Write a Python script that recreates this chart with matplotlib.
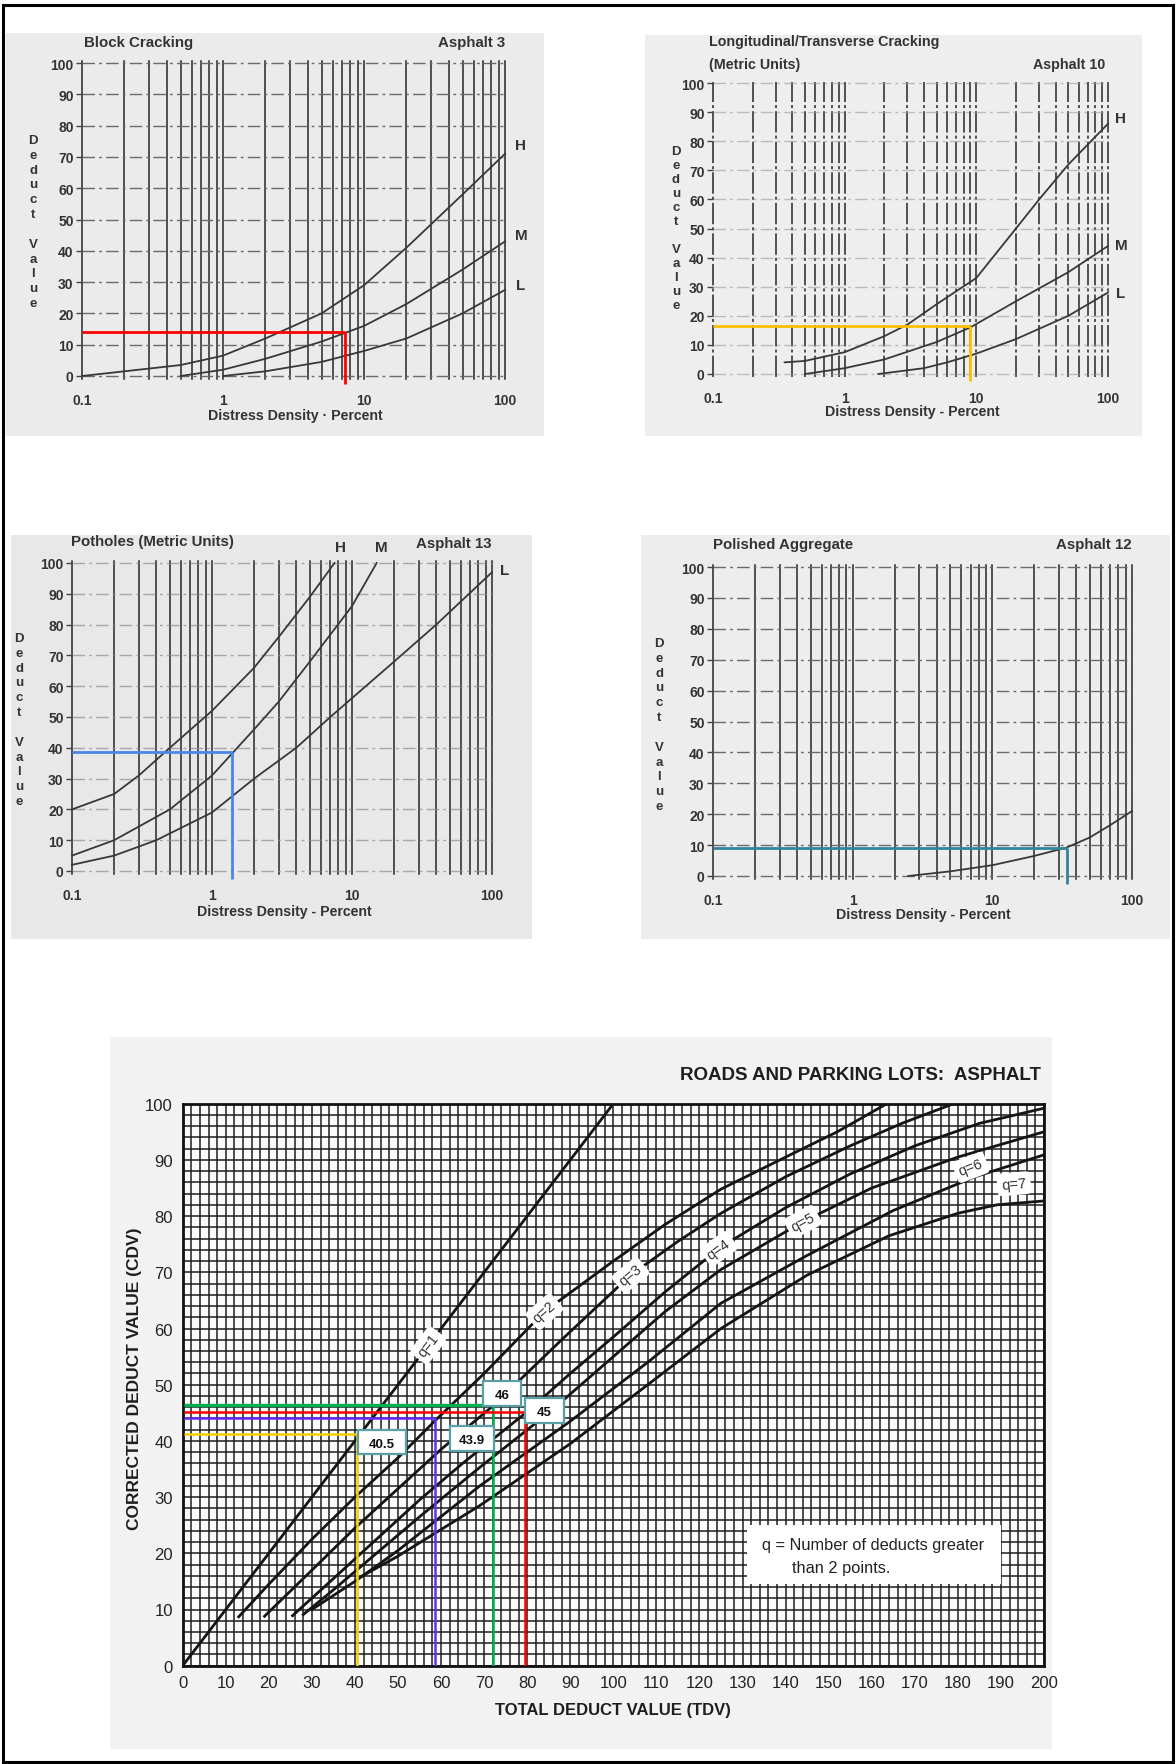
import numpy as np
import matplotlib
matplotlib.use('Agg')
import matplotlib.pyplot as plt
from matplotlib.patches import Rectangle
from matplotlib.ticker import NullLocator

# ---------------- data ----------------
# Block Cracking (Asphalt 3)
bc_h_x = [0.1, 0.2, 0.5, 1, 2, 5, 10, 20, 50, 100]
bc_h_y = [0, 1.5, 3.5, 6.5, 12, 20, 29, 41, 58, 71]
bc_m_x = [0.5, 1, 2, 5, 10, 20, 50, 100]
bc_m_y = [0, 2, 5.5, 11, 16, 23, 34, 43]
bc_l_x = [1, 2, 5, 10, 20, 50, 100]
bc_l_y = [0, 1.5, 4.5, 8, 12, 20, 27.5]
bc_read = (7.3, 14)

# Longitudinal/Transverse Cracking (Asphalt 10)
lt_h_x = [0.35, 0.5, 1, 2, 3, 5, 10, 20, 30, 50, 100]
lt_h_y = [4, 4.5, 7.5, 13, 17, 24, 33, 50, 60, 72, 86]
lt_m_x = [0.5, 1, 2, 5, 9, 20, 50, 100]
lt_m_y = [0, 2, 5, 11, 16, 25, 35, 44]
lt_l_x = [1.8, 4, 6, 10, 20, 50, 100]
lt_l_y = [0, 2, 4, 7, 12, 20, 28]
lt_read = (9.0, 16.5)

# Potholes (Asphalt 13)
ph_h_x = [0.1, 0.2, 0.3, 0.5, 1, 2, 3, 5, 7.5]
ph_h_y = [20, 25, 31, 40, 52, 66, 76, 89, 100]
ph_m_x = [0.1, 0.2, 0.5, 1, 2, 3, 5, 10, 15]
ph_m_y = [5, 10, 20, 31, 46, 55, 68, 86, 100]
ph_l_x = [0.1, 0.2, 0.4, 1, 2, 4, 7, 20, 40, 100]
ph_l_y = [2, 5, 10, 19, 30, 40, 50, 68, 80, 97]
ph_read = (1.4, 38.5)

# Polished Aggregate (Asphalt 12)
pa_x = [2.5, 5, 10, 20, 34, 50, 70, 100]
pa_y = [0, 1.5, 3.5, 6.5, 9.2, 12.5, 16.5, 21]
pa_read = (34, 9.2)

# CDV chart, curves q=1..7
q_names = ['q=1', 'q=2', 'q=3', 'q=4', 'q=5', 'q=6', 'q=7']
q_tdv = [
    [0, 100],
    [13, 20, 30, 40, 50, 59, 70, 84, 100, 112, 125, 140, 152, 163.5],
    [19, 30, 40, 50, 60, 72, 88, 104, 115, 125, 140, 155, 167, 179],
    [25.5, 35, 45, 55, 65, 80, 90, 100, 112, 125, 140, 155, 170, 185, 200],
    [28, 35, 45, 55, 69, 85, 100, 112, 125, 144, 160, 180, 200],
    [30, 40, 50, 69, 90, 108, 125, 145, 165, 184, 200],
    [41.3, 50, 69, 90, 108, 125, 145, 164, 180, 189, 200],
]
q_cdv = [
    [0, 100],
    [8.7, 14.5, 22.5, 30, 37, 43.9, 52, 63, 72, 78.5, 84.8, 90.5, 95, 100],
    [8.8, 17, 24.5, 31.5, 38.5, 46.2, 58, 69.5, 75.5, 80.5, 87, 92.5, 96.5, 100],
    [8.9, 15.5, 22.5, 29.5, 36, 45.2, 52, 58.5, 66.5, 74.5, 81.5, 87.5, 92.5, 96.5, 99.2],
    [9.1, 13.5, 20, 26.5, 35.3, 45, 55, 63, 70.5, 79, 85, 90.5, 95],
    [10, 15, 20.5, 32, 43.5, 54, 64.5, 73, 81, 87, 90.9],
    [15.8, 19.5, 28.5, 39.5, 50, 60, 69.5, 76.5, 80.5, 82, 82.7],
]
# worked readings: TDV, CDV, colour
read_tdv = [40.4, 58.5, 72, 79.5]
read_cdv = [41.3, 44.0, 46.4, 45.1]
read_txt = ['40.5', '43.9', '46', '45']
read_col = ['#f2d000', '#6a2cf5', '#00b050', '#ff0000']

# ---------------- figure helpers ----------------
W, H = 1176, 1765
fig = plt.figure(figsize=(W / 100, H / 100), dpi=100)
fig.patch.set_facecolor('white')

SANS = ['Liberation Sans', 'DejaVu Sans']
NARROW = ['Liberation Sans Narrow', 'Liberation Sans', 'DejaVu Sans']
INK = '#333333'


def box_axes(x0, y0, x1, y1):
    return fig.add_axes([x0 / W, 1 - y1 / H, (x1 - x0) / W, (y1 - y0) / H])


def ftext(x, y, s, **kw):
    kw.setdefault('family', SANS)
    kw.setdefault('color', INK)
    kw.setdefault('va', 'center')
    return fig.text(x / W, 1 - y / H, s, **kw)


def bg(x0, y0, x1, y1, color):
    fig.add_artist(Rectangle((x0 / W, 1 - y1 / H), (x1 - x0) / W, (y1 - y0) / H,
                             transform=fig.transFigure, facecolor=color,
                             edgecolor='none', zorder=-5))


def stacked_label(x, y0, y1):
    letters = list('Deduct') + [''] + list('Value')
    ys = np.linspace(y0, y1, len(letters))
    for ch, yy in zip(letters, ys):
        ftext(x, yy, ch, ha='center', fontsize=9.5, weight='bold')


def log_panel(box, curves, read, rcolor, vls='-', hcolor='#6a6a6a', halpha=1.0):
    ax = box_axes(*box)
    ax.set_xscale('log')
    ax.set_xlim(0.1, 100)
    ax.set_ylim(0, 100)
    ax.patch.set_alpha(0)
    for s in ax.spines.values():
        s.set_visible(False)
    vpos = np.concatenate([np.arange(1, 10) * d for d in (0.1, 1, 10)] + [[100]])
    for v in vpos:
        ax.plot([v, v], [-1, 100.5], color='#262626', lw=1.1, ls=vls, clip_on=False, zorder=1)
    for h in range(0, 101, 10):
        ax.plot([0.1, 100], [h, h], color=hcolor, lw=1.0, alpha=halpha,
                ls=(0, (9, 3, 2, 3)), clip_on=False, zorder=1)
    for xs, ys in curves:
        ax.plot(xs, ys, color='#383838', lw=1.3, zorder=3, clip_on=False)
    rx, ry = read
    ax.plot([0.1, rx], [ry, ry], color=rcolor, lw=2.0, zorder=4, clip_on=False,
            solid_capstyle='butt')
    ax.plot([rx, rx], [ry, -2.5], color=rcolor, lw=2.0, zorder=4, clip_on=False,
            solid_capstyle='butt')
    ax.xaxis.set_minor_locator(NullLocator())
    ax.set_xticks([0.1, 1, 10, 100], labels=['0.1', '1', '10', '100'])
    ax.set_yticks(range(0, 101, 10))
    ax.tick_params(axis='x', length=0, pad=12)
    ax.tick_params(axis='y', length=4, width=1, pad=2, color='#444')
    for lab in ax.get_xticklabels() + ax.get_yticklabels():
        lab.set_family(SANS)
        lab.set_fontsize(10)
        lab.set_weight('bold')
        lab.set_color(INK)
    return ax


TFS = 10.8   # panel title size
XFS = 10.2   # panel x label size

# ---------------- panel 1: block cracking ----------------
bg(6, 34, 544, 437, '#ebebeb')
log_panel((82, 64, 505, 377),
          [(bc_h_x, bc_h_y), (bc_m_x, bc_m_y), (bc_l_x, bc_l_y)],
          bc_read, '#ff0000')
ftext(84, 43, 'Block Cracking', fontsize=TFS, weight='bold')
ftext(505, 43, 'Asphalt 3', ha='right', fontsize=TFS, weight='bold')
for s, yy in zip('HML', (146, 236, 286)):
    ftext(521, yy, s, ha='center', fontsize=11, weight='bold')
stacked_label(33, 141, 304)
ftext(295, 416, 'Distress Density \u00b7 Percent', ha='center', fontsize=XFS, weight='bold')

# ---------------- panel 2: longitudinal / transverse ----------------
bg(645, 36, 1142, 437, '#eeeeee')
log_panel((713, 84, 1108, 375),
          [(lt_h_x, lt_h_y), (lt_m_x, lt_m_y), (lt_l_x, lt_l_y)],
          lt_read, '#ffc000', vls=(0, (14, 2, 2, 2)), hcolor='#9a9a9a', halpha=0.6)
ftext(709, 42, 'Longitudinal/Transverse Cracking', fontsize=10.3, weight='bold')
ftext(709, 65, '(Metric Units)', fontsize=10.3, weight='bold')
ftext(1105, 65, 'Asphalt 10', ha='right', fontsize=10.3, weight='bold')
for s, yy in zip('HML', (119, 246, 294)):
    ftext(1121, yy, s, ha='center', fontsize=11, weight='bold')
stacked_label(676, 152, 306)
ftext(912, 412, 'Distress Density - Percent', ha='center', fontsize=XFS, weight='bold')

# ---------------- panel 3: potholes ----------------
bg(11, 536, 532, 940, '#e8e8e8')
log_panel((72, 564, 492, 872),
          [(ph_h_x, ph_h_y), (ph_m_x, ph_m_y), (ph_l_x, ph_l_y)],
          ph_read, '#4a86e8', hcolor='#8a8a8a', halpha=0.7)
ftext(71, 542, 'Potholes (Metric Units)', fontsize=TFS, weight='bold')
ftext(340, 548, 'H', ha='center', fontsize=11, weight='bold')
ftext(381, 548, 'M', ha='center', fontsize=11, weight='bold')
ftext(492, 544, 'Asphalt 13', ha='right', fontsize=TFS, weight='bold')
ftext(505, 571, 'L', ha='center', fontsize=11, weight='bold')
stacked_label(19, 639, 802)
ftext(284, 912, 'Distress Density - Percent', ha='center', fontsize=XFS, weight='bold')

# ---------------- panel 4: polished aggregate ----------------
bg(641, 536, 1170, 940, '#ededed')
log_panel((713, 568, 1132, 877), [(pa_x, pa_y)], pa_read, '#31859c')
ftext(713, 545, 'Polished Aggregate', fontsize=TFS, weight='bold')
ftext(1132, 545, 'Asphalt 12', ha='right', fontsize=TFS, weight='bold')
stacked_label(659, 644, 807)
ftext(923, 915, 'Distress Density - Percent', ha='center', fontsize=XFS, weight='bold')

# ---------------- panel 5: corrected deduct value chart ----------------
bg(110, 1038, 1052, 1750, '#f2f2f2')
ax5 = box_axes(182.7, 1104.7, 1044, 1666.7)
ax5.set_xlim(0, 200)
ax5.set_ylim(0, 100)
ax5.set_facecolor('#fbfbfb')
ax5.vlines(np.arange(0, 201, 2), 0, 100, color='#1e1e1e', lw=1.1, zorder=1)
ax5.hlines(np.arange(0, 101, 2), 0, 200, color='#1e1e1e', lw=1.1, zorder=1)
for s in ax5.spines.values():
    s.set_linewidth(2)
    s.set_color('#111')

for xs, ys in zip(q_tdv, q_cdv):
    ax5.plot(xs, ys, color='#151515', lw=2.0, zorder=3)

# curve labels, placed on the curves
lab_x = [57, 84, 104, 124.5, 144, 183, 193]
lab_dy = [0, 0, 0, 0, 0, 2, 3.5]
for name, xs, ys, lx, dy in zip(q_names, q_tdv, q_cdv, lab_x, lab_dy):
    y0 = np.interp(lx - 3, xs, ys)
    y1 = np.interp(lx + 3, xs, ys)
    p0 = ax5.transData.transform((lx - 3, y0))
    p1 = ax5.transData.transform((lx + 3, y1))
    ang = np.degrees(np.arctan2(p1[1] - p0[1], p1[0] - p0[0]))
    ax5.text(lx, np.interp(lx, xs, ys) + dy, name, rotation=ang, ha='center', va='center',
             rotation_mode='anchor', fontsize=10.5, family=NARROW, color='#333',
             zorder=5, bbox=dict(boxstyle='round,pad=0.3', facecolor='white',
                                 edgecolor='none'))

# worked readings
for tx, cy, col in zip(read_tdv, read_cdv, read_col):
    ax5.plot([0.4, tx], [cy, cy], color=col, lw=1.8 if col != '#00b050' else 2.4,
             zorder=6, solid_capstyle='butt')
    ax5.plot([tx, tx], [cy, 0], color=col, lw=1.8, zorder=6, solid_capstyle='butt')

box_cx = [46.2, 67.2, 74.2, 84.0]
box_cy = [39.8, 40.4, 48.4, 45.4]
box_w = [11.2, 10.4, 8.9, 9.2]
for txt, cx, cy, bw in zip(read_txt, box_cx, box_cy, box_w):
    ax5.add_patch(Rectangle((cx - bw / 2, cy - 2.2), bw, 4.4, facecolor='white',
                            edgecolor='#5a9ea8', lw=1.6, zorder=7))
    ax5.text(cx, cy - 0.3, txt, ha='center', va='center', fontsize=9.5, weight='bold',
             family=SANS, color='#111', zorder=8)

# note box
ax5.add_patch(Rectangle((131, 14.5), 59, 10.5, facecolor='white', edgecolor='none', zorder=6))
ax5.text(134.5, 21.6, 'q = Number of deducts greater', fontsize=11.8, family=NARROW,
         color='#222', va='center', zorder=7)
ax5.text(141.5, 17.4, 'than 2 points.', fontsize=11.8, family=NARROW,
         color='#222', va='center', zorder=7)

ax5.set_xticks(range(0, 201, 10))
ax5.set_yticks(range(0, 101, 10))
ax5.tick_params(length=0, pad=7)
for lab in ax5.get_xticklabels() + ax5.get_yticklabels():
    lab.set_family(NARROW)
    lab.set_fontsize(12)
    lab.set_color('#222')

ftext(1041, 1076, 'ROADS AND PARKING LOTS:  ASPHALT', ha='right', fontsize=13.5,
      weight='bold', family=NARROW, color='#1e1e1e')
ftext(613, 1711, 'TOTAL DEDUCT VALUE (TDV)', ha='center', fontsize=12,
      weight='bold', family=NARROW, color='#1e1e1e')
ftext(135, 1379, 'CORRECTED DEDUCT VALUE (CDV)', ha='center', rotation=90,
      fontsize=12.5, weight='bold', family=NARROW, color='#1e1e1e')

# outer frame
fig.add_artist(Rectangle((3 / W, 1 - 1763 / H), 1170 / W, 1757 / H,
                         transform=fig.transFigure, facecolor='none',
                         edgecolor='black', lw=2.2, zorder=20))

fig.savefig('out.png', dpi=100, facecolor='white')
